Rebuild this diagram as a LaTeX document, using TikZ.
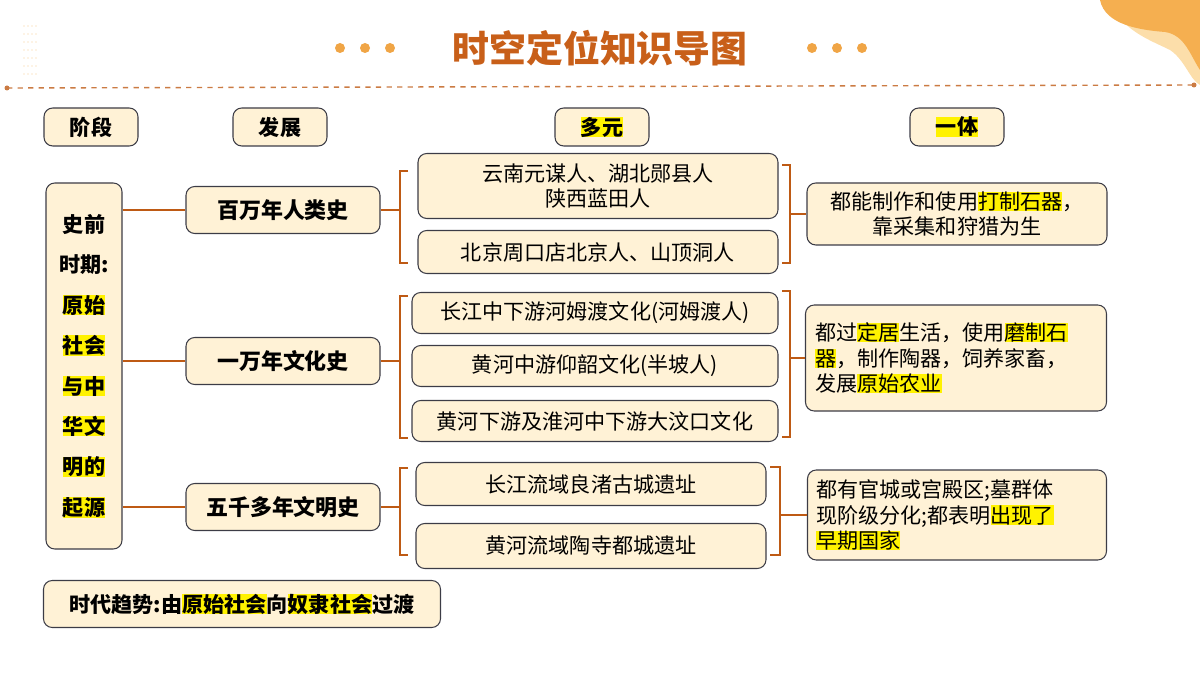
\documentclass[tikz,border=0pt]{standalone}
\usepackage{fontspec}
\setmainfont{Noto Sans CJK SC}
\definecolor{box_fill}{RGB}{255,242,214}
\definecolor{box_edge}{RGB}{60,60,70}
\definecolor{line_brown}{RGB}{190,90,20}
\definecolor{title_brown}{RGB}{200,95,25}
\definecolor{dot_orange}{RGB}{240,165,70}
\definecolor{deco_orange}{RGB}{245,175,80}
\definecolor{deco_light}{RGB}{252,222,170}
\newcommand{\hl}[1]{{\setlength{\fboxsep}{0pt}\colorbox{yellow}{#1}}}
\begin{document}
\begin{tikzpicture}[x=0.02cm,y=-0.02cm,font=\fontsize{12}{14.5}\selectfont]
    \tikzstyle{card}=[draw=box_edge, fill=box_fill, rounded corners=5pt, semithick, inner sep=2pt, align=center]
    \tikzstyle{head}=[style=card, minimum width=94*0.02cm, minimum height=38*0.02cm, font=\fontsize{12}{14}\selectfont\bfseries]
    \tikzstyle{stage}=[style=card, minimum width=194*0.02cm, minimum height=47*0.02cm, font=\fontsize{12.5}{14}\selectfont\bfseries]
    \tikzstyle{link}=[draw=line_brown, thick]
    \useasboundingbox (0,0) rectangle (1200,675);
    % decoration
    \fill[deco_light] (1110,0) .. controls (1120,30) and (1150,40) .. (1170,50) .. controls (1185,60) and (1190,80) .. (1200,85) -- (1200,0) -- cycle;
    \fill[deco_orange] (1100,0) .. controls (1105,25) and (1140,30) .. (1165,32) .. controls (1185,35) and (1190,55) .. (1200,70) -- (1200,0) -- cycle;
    \foreach \i in {0,...,6}
      \foreach \j in {0,...,3}
        \fill[dot_orange!60] (24+\j*4,26+\i*8) circle (0.6);
    \node[text=title_brown, font=\fontsize{21}{24}\selectfont\bfseries] (title) at (600,48) {时空定位知识导图};
    \foreach \x in {340,365,390,812,837,862}
      \fill[dot_orange] (\x,48) circle (5);
    \draw[line_brown!80, dashed, thick] (7,88) -- (1194,85);
    \fill[line_brown!80] (7,88) circle (2.5) (1194,85) circle (2.5);

    % headers
    \node[head] (hStage) at (91,127)  {阶段};
    \node[head] (hDev)   at (280,127) {发展};
    \node[head] (hMulti) at (602,127) {\hl{多元}};
    \node[head] (hOne)   at (957,127) {\hl{一体}};

    % stage
    \node[card, minimum width=76*0.02cm, minimum height=366*0.02cm, font=\fontsize{12}{23}\selectfont\bfseries] (era) at (84,366)
      {史前\\时期:\\\hl{原始}\\\hl{社会}\\\hl{与中}\\\hl{华文}\\\hl{明的}\\\hl{起源}};

    \node[stage] (million) at (283,210) {百万年人类史};
    \node[stage] (tenk)    at (283,361) {一万年文化史};
    \node[stage] (fivek)   at (283,507) {五千多年文明史};

    % multi
    \node[card, minimum width=360*0.02cm, minimum height=65*0.02cm] (m1) at (598,186) {云南元谋人、湖北郧县人\\陕西蓝田人};
    \node[card, minimum width=360*0.02cm, minimum height=43*0.02cm] (m2) at (598,252) {北京周口店北京人、山顶洞人};
    \node[card, minimum width=366*0.02cm, minimum height=41*0.02cm] (m3) at (595,313) {长江中下游河姆渡文化(河姆渡人)};
    \node[card, minimum width=366*0.02cm, minimum height=41*0.02cm] (m4) at (595,366) {黄河中游仰韶文化(半坡人)};
    \node[card, minimum width=366*0.02cm, minimum height=41*0.02cm] (m5) at (595,421) {黄河下游及淮河中下游大汶口文化};
    \node[card, minimum width=350*0.02cm, minimum height=43*0.02cm] (m6) at (591,484) {长江流域良渚古城遗址};
    \node[card, minimum width=350*0.02cm, minimum height=45*0.02cm] (m7) at (591,546) {黄河流域陶寺都城遗址};

    % one
    \node[card, minimum width=300*0.02cm, minimum height=62*0.02cm] (o1) at (957,214) {都能制作和使用\hl{打制石器}，\\靠采集和狩猎为生};
    \node[card, minimum width=301*0.02cm, minimum height=106*0.02cm, text width=282*0.02cm, align=left] (o2) at (956,358) {都过\hl{定居}生活，使用\hl{磨制石}\\\hl{器}，制作陶器，饲养家畜，\\发展\hl{原始农业}};
    \node[card, minimum width=299*0.02cm, minimum height=90*0.02cm, text width=282*0.02cm, align=left] (o3) at (957,515) {都有官城或宫殿区;墓群体\\现阶级分化;都表明\hl{出现了}\\\hl{早期国家}};

    \node[card, minimum width=397*0.02cm, minimum height=47*0.02cm, font=\fontsize{12}{14}\selectfont\bfseries] (trend) at (242,604) {时代趋势:由\hl{原始社会}向\hl{奴隶社会}过渡};

    % connectors
    \draw[link] (era.east |- million) -- (million);
    \draw[link] (era.east |- tenk) -- (tenk);
    \draw[link] (era.east |- fivek) -- (fivek);

    \draw[link] (million.east) -- (400,210);
    \draw[link] (408,171) -- (400,171) -- (400,263) -- (408,263);
    \draw[link] (tenk.east) -- (400,361);
    \draw[link] (408,296) -- (400,296) -- (400,438) -- (408,438);
    \draw[link] (fivek.east) -- (400,507);
    \draw[link] (408,468) -- (400,468) -- (400,555) -- (408,555);

    \draw[link] (782,165) -- (790,165) -- (790,263) -- (782,263);
    \draw[link] (790,214) -- (o1.west);
    \draw[link] (782,291) -- (790,291) -- (790,437) -- (782,437);
    \draw[link] (790,358) -- (o2.west);
    \draw[link] (770,467) -- (780,467) -- (780,555) -- (770,555);
    \draw[link] (780,515) -- (o3.west);
\end{tikzpicture}
\end{document}
